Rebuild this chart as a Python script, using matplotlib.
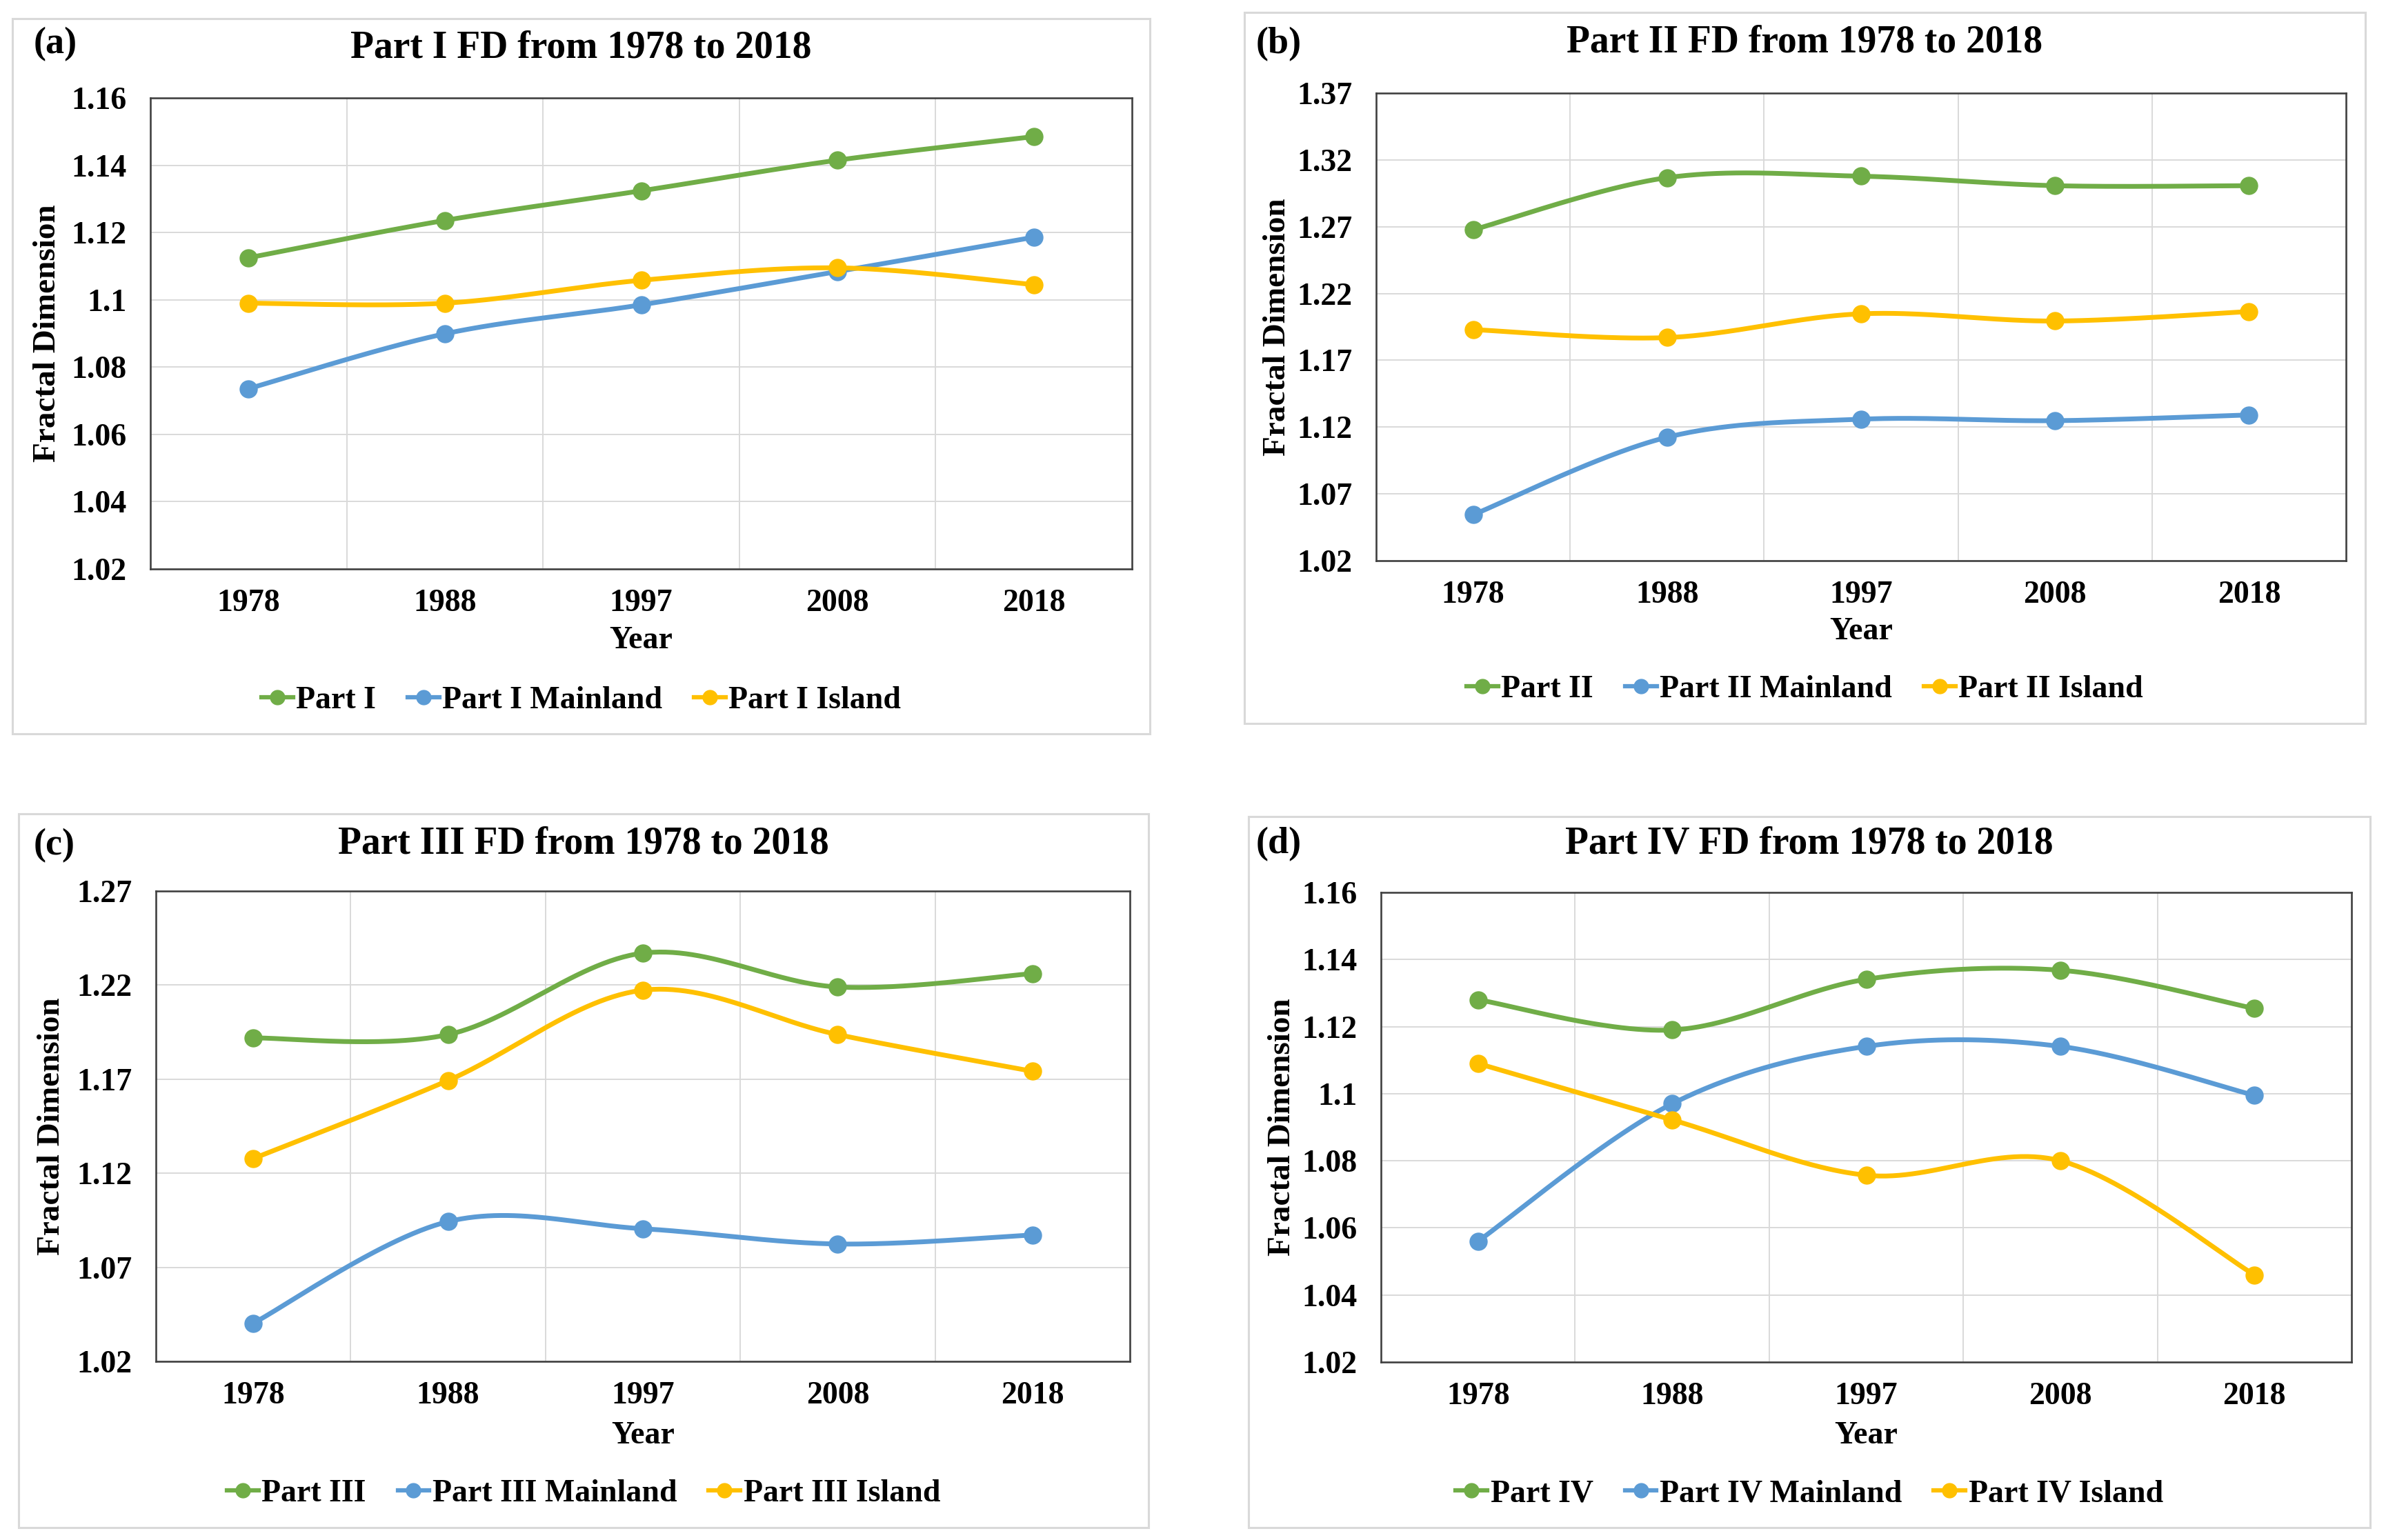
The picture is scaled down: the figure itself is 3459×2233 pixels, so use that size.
import numpy as np
import matplotlib
matplotlib.use("Agg")
import matplotlib.pyplot as plt
from matplotlib.patches import Rectangle
from matplotlib.lines import Line2D

# ---------------- data ----------------
years = ['1978', '1988', '1997', '2008', '2018']

a_part = [1.1125, 1.1236, 1.1324, 1.1415, 1.1485]
a_main = [1.0736, 1.0899, 1.0985, 1.1084, 1.1186]
a_isl = [1.0990, 1.0990, 1.1058, 1.1095, 1.1045]

b_part = [1.2677, 1.3067, 1.3078, 1.3007, 1.3007]
b_main = [1.0544, 1.1124, 1.1259, 1.1248, 1.1291]
b_isl = [1.1930, 1.1870, 1.2048, 1.1994, 1.2065]

c_part = [1.1919, 1.1937, 1.2370, 1.2190, 1.2261]
c_main = [1.0403, 1.0943, 1.0905, 1.0824, 1.0872]
c_isl = [1.1278, 1.1693, 1.2173, 1.1937, 1.1742]

d_part = [1.1280, 1.1190, 1.1341, 1.1368, 1.1254]
d_main = [1.0560, 1.0970, 1.1141, 1.1141, 1.0995]
d_isl = [1.1090, 1.0922, 1.0757, 1.0800, 1.0460]

ticks_a = [1.02, 1.04, 1.06, 1.08, 1.10, 1.12, 1.14, 1.16]
ticklabels_a = ['1.02', '1.04', '1.06', '1.08', '1.1', '1.12', '1.14', '1.16']
ticks_b = [1.02, 1.07, 1.12, 1.17, 1.22, 1.27, 1.32, 1.37]
ticklabels_b = ['1.02', '1.07', '1.12', '1.17', '1.22', '1.27', '1.32', '1.37']
ticks_c = [1.02, 1.07, 1.12, 1.17, 1.22, 1.27]
ticklabels_c = ['1.02', '1.07', '1.12', '1.17', '1.22', '1.27']

titles = ['Part I FD from 1978 to 2018', 'Part II FD from 1978 to 2018',
          'Part III FD from 1978 to 2018', 'Part IV FD from 1978 to 2018']
panel_tags = ['(a)', '(b)', '(c)', '(d)']
part_names = ['Part I', 'Part II', 'Part III', 'Part IV']
series_suffix = ['', ' Mainland', ' Island']

GREEN = '#70AD47'
BLUE = '#5B9BD5'
YELLOW = '#FFC000'
colors = [GREEN, BLUE, YELLOW]

# ---------------- layout (pixels of the 3459x2233 canvas) ----------------
W, H = 3459, 2233
def fx(px):
    return px / W
def fy(py):
    return 1 - py / H

panels = [
    dict(ax=(218, 142, 1641, 825), box=(18, 27, 1667, 1064),
         data=[a_part, a_main, a_isl], ticks=ticks_a, tl=ticklabels_a,
         tag=(49, 64), title_y=69, year_y=929, leg_y=1016, ylab_x=69),
    dict(ax=(1995, 135, 3401, 813), box=(1804, 18, 3429, 1049),
         data=[b_part, b_main, b_isl], ticks=ticks_b, tl=ticklabels_b,
         tag=(1821, 64), title_y=62, year_y=916, leg_y=1000, ylab_x=1852),
    dict(ax=(226, 1292, 1638, 1974), box=(27, 1180, 1665, 2215),
         data=[c_part, c_main, c_isl], ticks=ticks_c, tl=ticklabels_c,
         tag=(49, 1226), title_y=1224, year_y=2082, leg_y=2166, ylab_x=75),
    dict(ax=(2002, 1294, 3409, 1975), box=(1810, 1184, 3436, 2215),
         data=[d_part, d_main, d_isl], ticks=ticks_a, tl=ticklabels_a,
         tag=(1821, 1224), title_y=1224, year_y=2082, leg_y=2166, ylab_x=1859),
]

FONT = ['Liberation Serif', 'DejaVu Serif']
plt.rcParams['font.family'] = FONT
plt.rcParams['font.weight'] = 'bold'


def smooth_curve(xs, ys, n=60):
    """Excel-like smoothed line: cubic Bezier segments (Catmull-Rom style)."""
    P = np.column_stack([xs, ys]).astype(float)
    m = len(P)
    out = []
    t = np.linspace(0, 1, n)[:, None]
    for i in range(m - 1):
        p0 = P[i]
        p3 = P[i + 1]
        pm = P[i - 1] if i > 0 else P[i]
        pp = P[i + 2] if i + 2 < m else P[i + 1]
        c1 = p0 + (p3 - pm) / 6.0
        c2 = p3 - (pp - p0) / 6.0
        seg = ((1 - t) ** 3) * p0 + 3 * ((1 - t) ** 2) * t * c1 + 3 * (1 - t) * t ** 2 * c2 + t ** 3 * p3
        out.append(seg if i == 0 else seg[1:])
    out = np.vstack(out)
    return out[:, 0], out[:, 1]


fig = plt.figure(figsize=(W / 100, H / 100), dpi=100)
fig.patch.set_facecolor('white')

x = np.arange(len(years))
for k, p in enumerate(panels):
    bx0, by0, bx1, by1 = p['box']
    fig.add_artist(Rectangle((fx(bx0), fy(by1)), fx(bx1) - fx(bx0), fy(by0) - fy(by1),
                             transform=fig.transFigure, fill=False,
                             edgecolor='#D9D9D9', linewidth=2.2, zorder=0))
    x0, y0, x1, y1 = p['ax']
    ax = fig.add_axes([fx(x0), fy(y1), fx(x1) - fx(x0), fy(y0) - fy(y1)])
    ax.set_xlim(-0.5, len(years) - 0.5)
    ax.set_ylim(p['ticks'][0], p['ticks'][-1])
    ax.set_yticks(p['ticks'])
    ax.set_yticklabels(p['tl'])
    ax.set_xticks(x)
    ax.set_xticklabels(years)
    ax.set_xticks(np.arange(0.5, len(years) - 0.5, 1.0), minor=True)
    ax.tick_params(axis='both', which='both', length=0, labelsize=33)
    ax.tick_params(axis='y', pad=25)
    ax.tick_params(axis='x', pad=21)
    for lab in ax.get_xticklabels() + ax.get_yticklabels():
        lab.set_fontweight('bold')
    ax.grid(axis='y', which='major', color='#D9D9D9', linewidth=1.4)
    ax.grid(axis='x', which='minor', color='#D9D9D9', linewidth=1.4)
    ax.set_axisbelow(True)
    for s in ax.spines.values():
        s.set_color('#404040')
        s.set_linewidth(1.9)

    handles = []
    for j, ys in enumerate(p['data']):
        sx, sy = smooth_curve(x, ys)
        ax.plot(sx, sy, color=colors[j], linewidth=5, solid_capstyle='round', zorder=3 + j)
        ax.plot(x, ys, linestyle='none', marker='o', markersize=18,
                markerfacecolor=colors[j], markeredgecolor=colors[j], zorder=3 + j)
        handles.append(Line2D([0], [0], color=colors[j], linewidth=4.5, marker='o',
                              markersize=15, label=part_names[k] + series_suffix[j]))

    cx_panel = fx((bx0 + bx1) / 2)
    fig.text(cx_panel, fy(p['title_y']), titles[k], ha='center', va='center',
             fontsize=40, fontweight='bold')
    fig.text(fx(p['tag'][0]), fy(p['tag'][1]), panel_tags[k], ha='left', va='center',
             fontsize=39, fontweight='bold')
    fig.text(fx((x0 + x1) / 2), fy(p['year_y']), 'Year', ha='center', va='center',
             fontsize=33, fontweight='bold')
    fig.text(fx(p['ylab_x']), fy((y0 + y1) / 2), 'Fractal Dimension', ha='center',
             va='center', rotation=90, fontsize=34, fontweight='bold')
    fig.legend(handles=handles, loc='center', bbox_to_anchor=(cx_panel, fy(p['leg_y'])),
               bbox_transform=fig.transFigure, ncol=3, frameon=False,
               handlelength=1.0, handletextpad=0.1, columnspacing=1.0,
               prop=dict(family=FONT, weight='bold', size=33))

fig.savefig('out.png', dpi=100, facecolor='white')
